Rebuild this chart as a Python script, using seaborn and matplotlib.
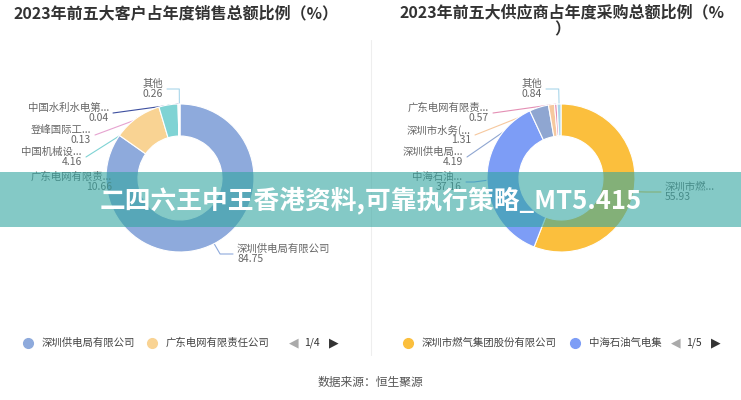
import numpy as np
import matplotlib
matplotlib.use('Agg')
import matplotlib.pyplot as plt
import seaborn as sns
from matplotlib.patches import Rectangle

# ------------------------------------------------------------
# DATA
# ------------------------------------------------------------
cust_names = ['深圳供电局有限公司', '广东电网有限责...', '中国机械设...',
              '登峰国际工...', '中国水利水电第...', '其他']
cust_values = [84.75, 10.66, 4.16, 0.13, 0.04, 0.26]
cust_legend = ['深圳供电局有限公司', '广东电网有限责任公司']
cust_pages = '1/4'

supp_names = ['深圳市燃...', '中海石油...', '深圳供电局...',
              '深圳市水务(...', '广东电网有限责...', '其他']
supp_values = [55.93, 37.16, 4.19, 1.31, 0.57, 0.84]
supp_legend = ['深圳市燃气集团股份有限公司', '中海石油气电集']
supp_pages = '1/5'

cust_title = '2023年前五大客户占年度销售总额比例（%）'
supp_title = '2023年前五大供应商占年度采购总额比例（%\n）'
source_text = '数据来源：恒生聚源'
banner_text = '二四六王中王香港资料,可靠执行策略_MT5.415'

# ------------------------------------------------------------
# STYLE / LAYOUT (pixel coords, y from top)
# ------------------------------------------------------------
sns.set_theme(style='white')
plt.rcParams['font.family'] = ['Noto Sans CJK SC', 'DejaVu Sans']

cust_colors = ['#8eaadc', '#f9d393', '#7fd3d4', '#e6a3d0', '#3d4f9f', '#a9d6ea']
supp_colors = ['#fbbf3d', '#7d9df6', '#8fa6d1', '#f6c89e', '#e48fb4', '#a9d6ea']

W, H = 741, 400
R_OUT, R_IN = 74, 42

def Y(y):
    return H - y

# label layout: (x, y_name, side, use_elbow)
cust_layout = [(237, 249, 'left', True), (112, 177, 'right', False),
               (82, 152, 'right', False), (91, 130, 'right', False),
               (109, 108, 'right', False), (163, 84, 'right', True)]
supp_layout = [(665, 187, 'left', True), (462, 177, 'right', True),
               (463, 152, 'right', False), (471, 130, 'right', False),
               (489, 108, 'right', False), (542, 84, 'right', True)]

fig = plt.figure(figsize=(W / 100, H / 100), dpi=100)
ax = fig.add_axes([0, 0, 1, 1])


def draw_donut(ax, names, values, colors, layout, cx, cy):
    ax.pie(values, colors=colors, startangle=90, counterclock=False,
           radius=R_OUT, center=(cx, Y(cy)),
           wedgeprops=dict(width=R_OUT - R_IN, edgecolor='white', linewidth=0.8))
    cum = np.cumsum([0] + list(values)) / sum(values)
    for i, (name, val) in enumerate(zip(names, values)):
        mid = (cum[i] + cum[i + 1]) / 2 * 2 * np.pi
        px, py = cx + R_OUT * np.sin(mid), cy - R_OUT * np.cos(mid)
        lx, ly, side, elbow = layout[i]
        ha = 'left' if side == 'left' else 'right'
        ax.text(lx, Y(ly), name, ha=ha, va='center', fontsize=7.5, color='#666666')
        ax.text(lx, Y(ly + 10), f'{val:.2f}', ha=ha, va='center', fontsize=7.5, color='#666666')
        ancx = lx - 4 if side == 'left' else lx + 4
        ancy = ly + 5
        if elbow:
            ex, ey = cx + (R_OUT + 13) * np.sin(mid), cy - (R_OUT + 13) * np.cos(mid)
            xs, ys = [px, ex, ancx], [py, ancy, ancy]
        else:
            xs, ys = [px, ancx], [py, ancy]
        ax.plot(xs, [Y(v) for v in ys], color=colors[i], lw=0.8, zorder=0.5)


draw_donut(ax, cust_names, cust_values, cust_colors, cust_layout, 180, 178)
draw_donut(ax, supp_names, supp_values, supp_colors, supp_layout, 561, 178)

# titles
ax.text(176, Y(13), cust_title, ha='center', va='center', fontsize=11.5,
        fontweight='bold', color='#333333')
ax.text(562, Y(21), supp_title, ha='center', va='center', fontsize=11.5,
        fontweight='bold', color='#333333', linespacing=1.05, multialignment='center')

# divider
ax.plot([371, 371], [Y(40), Y(355)], color='#eeeeee', lw=0.8)

# legends
def draw_legend(ax, labels, colors, xs, pager, pager_x):
    for lab, col, x in zip(labels, colors, xs):
        ax.plot(x, Y(343), marker='o', ms=7, color=col, mec=col)
        ax.text(x + 14, Y(343), lab, ha='left', va='center', fontsize=7.5, color='#444444')
    ax.text(pager_x, Y(343), '◀', ha='center', va='center', fontsize=9, color='#aaaaaa',
            family='DejaVu Sans')
    ax.text(pager_x + 18, Y(343), pager, ha='center', va='center', fontsize=7.5, color='#333333')
    ax.text(pager_x + 40, Y(343), '▶', ha='center', va='center', fontsize=9, color='#333333',
            family='DejaVu Sans')

draw_legend(ax, cust_legend, cust_colors, [28, 152], cust_pages, 294)
draw_legend(ax, supp_legend, supp_colors, [408, 575], supp_pages, 676)

# source
ax.text(370, Y(382), source_text, ha='center', va='center', fontsize=8.5, color='#555555')

# banner overlay
ax.add_patch(Rectangle((0, Y(227)), W, 55, facecolor=(0.2, 0.65, 0.63), alpha=0.6,
                       edgecolor='none', zorder=10))
ax.text(371, Y(200), banner_text, ha='center', va='center', fontsize=18.5,
        fontweight='bold', color='white', zorder=11)

ax.set_xlim(0, W)
ax.set_ylim(0, H)
ax.set_aspect('auto')
ax.axis('off')

plt.savefig('out.png', dpi=100)
